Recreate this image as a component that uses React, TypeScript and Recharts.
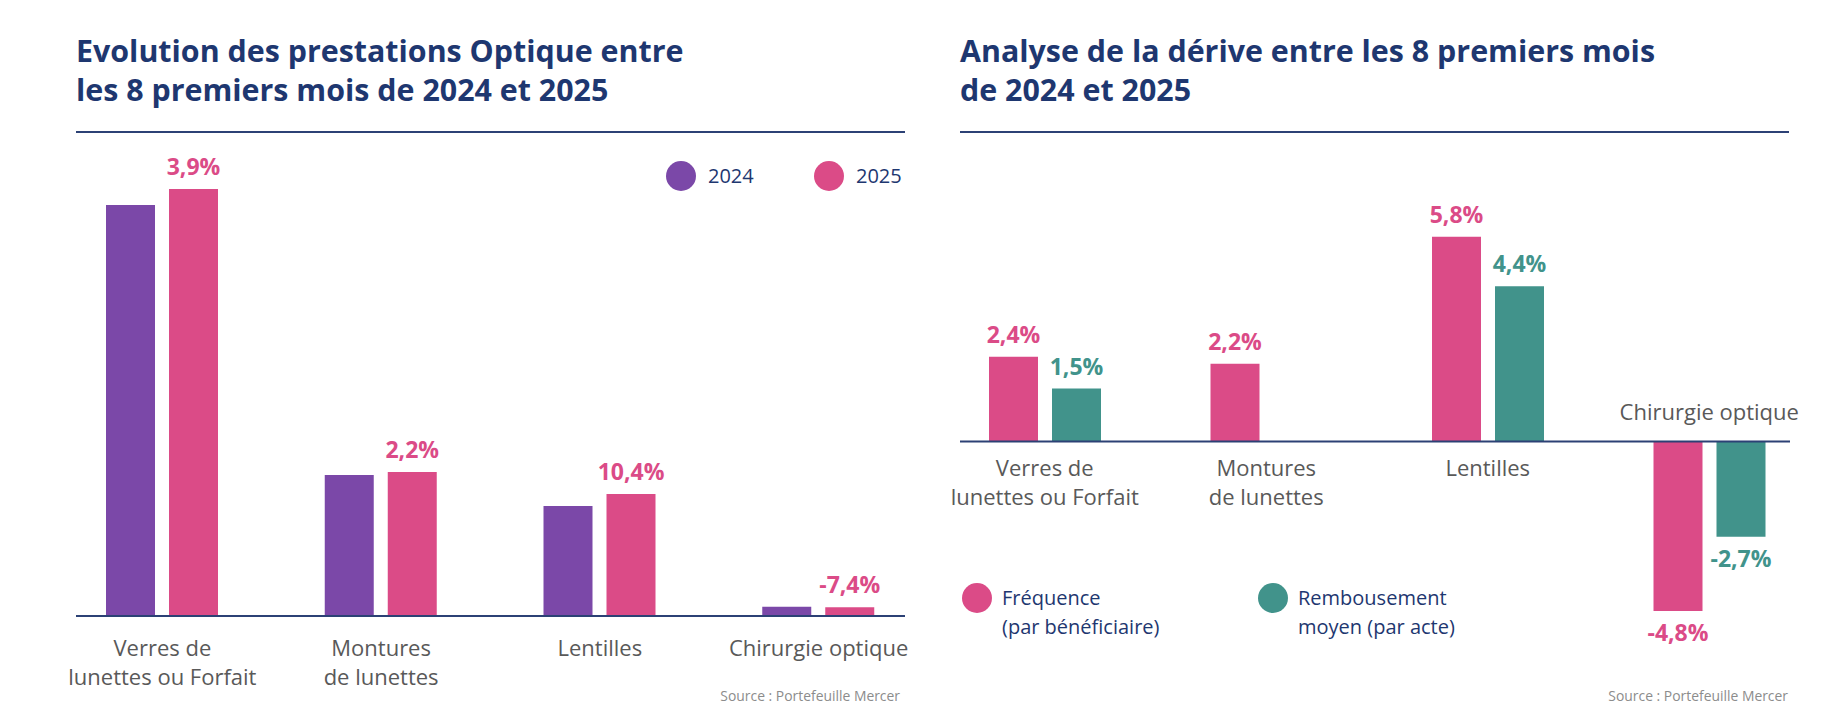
import React from 'react';
import { BarChart, Bar, XAxis, YAxis, LabelList } from 'recharts';

// categories shared by both panels
const CATEGORIES = ['Verres de lunettes ou Forfait', 'Montures de lunettes', 'Lentilles', 'Chirurgie optique'];
const CATEGORY_LINES = [['Verres de', 'lunettes ou Forfait'], ['Montures', 'de lunettes'], ['Lentilles'], ['Chirurgie optique']];

// left panel: benefit amounts (no scale shown) and 2025 vs 2024 growth in %
const AMOUNT_2024 = [41.1, 14.1, 11.0, 0.93];
const AMOUNT_2025 = [42.7, 14.4, 12.2, 0.87];
const GROWTH_2025 = [3.9, 2.2, 10.4, -7.4];

// right panel: drift split in %
const FREQUENCE = [2.4, 2.2, 5.8, -4.8];
const REMBOURSEMENT: (number | null)[] = [1.5, null, 4.4, -2.7];

const LEFT_LEGEND = ['2024', '2025'];
const RIGHT_LEGEND = [['Fréquence', '(par bénéficiaire)'], ['Rembousement', 'moyen (par acte)']];

const TITLE_LEFT = ['Evolution des prestations Optique entre', 'les 8 premiers mois de 2024 et 2025'];
const TITLE_RIGHT = ['Analyse de la dérive entre les 8 premiers mois', 'de 2024 et 2025'];
const SOURCE = 'Source : Portefeuille Mercer';

const COLORS = {
  purple: '#7B48A8',
  pink: '#DB4B87',
  teal: '#41938B',
  navy: '#1E3770',
  rule: '#2C4175',
  tick: '#595959',
  source: '#8C8C8C',
};
const FONT = '"Open Sans", sans-serif';

// layout
const LEFT_W = 940;
const RIGHT_X = 916;
const RIGHT_W = 916;
const H = 721;
const R_TOP = 212;
const R_DOMAIN: [number, number] = [-5.5, 6.5];
const R_PLOT_H = 423.6;
const R_ZERO = R_TOP + (R_PLOT_H * R_DOMAIN[1]) / (R_DOMAIN[1] - R_DOMAIN[0]);

const fmtPct = (v: number) => `${v.toFixed(1).replace('.', ',')}%`;

const leftData = CATEGORIES.map((c, i) => ({
  cat: c,
  a2024: AMOUNT_2024[i],
  a2025: AMOUNT_2025[i],
  growth: GROWTH_2025[i],
}));

const rightData = CATEGORIES.map((c, i) => ({
  cat: c,
  freq: FREQUENCE[i],
  remb: REMBOURSEMENT[i],
}));

const barLabel = (color: string, belowIfNegative: boolean) => (props: any) => {
  const { x, y, width, height, value } = props;
  if (value == null) return null;
  const v = Number(value);
  const y0 = Number(y);
  const y1 = Number(y) + Number(height);
  const top = Math.min(y0, y1);
  const bottom = Math.max(y0, y1);
  const cx = Number(x) + Number(width) / 2;
  const below = belowIfNegative && v < 0;
  return (
    <text x={cx} y={below ? bottom + 30 : top - 14} textAnchor="middle" fill={color}
      fontSize={23} fontWeight={700} fontFamily={FONT}>
      {fmtPct(v)}
    </text>
  );
};

const LeftTick = (props: any) => {
  const { x, y, payload } = props;
  const idx = CATEGORIES.indexOf(payload.value);
  const lines = CATEGORY_LINES[idx] ?? [payload.value];
  return (
    <text textAnchor="middle" fill={COLORS.tick} fontSize={22} fontFamily={FONT}>
      {lines.map((l, i) => (
        <tspan key={i} x={x} y={y + 40 + i * 29}>{l}</tspan>
      ))}
    </text>
  );
};

const RightTick = (props: any) => {
  const { x, payload } = props;
  const idx = CATEGORIES.indexOf(payload.value);
  const lines = CATEGORY_LINES[idx] ?? [payload.value];
  const negative = FREQUENCE[idx] < 0;
  return (
    <text textAnchor="middle" fill={COLORS.tick} fontSize={22} fontFamily={FONT}>
      {negative ? (
        <tspan x={x} y={R_ZERO - 21}>{lines.join(' ')}</tspan>
      ) : (
        lines.map((l, i) => (
          <tspan key={i} x={x} y={R_ZERO + 35 + i * 29}>{l}</tspan>
        ))
      )}
    </text>
  );
};

const Overlay = () => (
  <svg width={1832} height={H} style={{ position: 'absolute', left: 0, top: 0, pointerEvents: 'none' }}>
    {/* titles */}
    <text fill={COLORS.navy} fontSize={30.4} fontWeight={700} fontFamily={FONT}>
      {TITLE_LEFT.map((t, i) => <tspan key={i} x={76} y={62 + i * 38.5}>{t}</tspan>)}
    </text>
    <text fill={COLORS.navy} fontSize={30.4} fontWeight={700} fontFamily={FONT}>
      {TITLE_RIGHT.map((t, i) => <tspan key={i} x={960} y={62 + i * 38.5}>{t}</tspan>)}
    </text>
    <line x1={76} x2={905} y1={132} y2={132} stroke={COLORS.rule} strokeWidth={2} />
    <line x1={960} x2={1789} y1={132} y2={132} stroke={COLORS.rule} strokeWidth={2} />

    {/* baselines */}
    <line x1={76} x2={905} y1={616} y2={616} stroke={COLORS.rule} strokeWidth={2} />
    <line x1={960} x2={1790} y1={R_ZERO} y2={R_ZERO} stroke={COLORS.rule} strokeWidth={2} />

    {/* left legend */}
    {LEFT_LEGEND.map((name, i) => (
      <g key={name}>
        <circle cx={681 + i * 148} cy={176} r={15} fill={i === 0 ? COLORS.purple : COLORS.pink} />
        <text x={708 + i * 148} y={183} fill={COLORS.navy} fontSize={20} fontFamily={FONT}>{name}</text>
      </g>
    ))}

    {/* right legend */}
    {RIGHT_LEGEND.map((lines, i) => (
      <g key={lines[0]}>
        <circle cx={977 + i * 296} cy={598} r={15} fill={i === 0 ? COLORS.pink : COLORS.teal} />
        <text fill={COLORS.navy} fontSize={20} fontFamily={FONT}>
          {lines.map((l, j) => <tspan key={j} x={1002 + i * 296} y={605 + j * 29}>{l}</tspan>)}
        </text>
      </g>
    ))}

    {/* sources */}
    <text x={900} y={701} textAnchor="end" fill={COLORS.source} fontSize={13.9} fontFamily={FONT}>{SOURCE}</text>
    <text x={1788} y={701} textAnchor="end" fill={COLORS.source} fontSize={13.9} fontFamily={FONT}>{SOURCE}</text>
  </svg>
);

export default function App() {
  return (
    <div style={{ position: 'absolute', left: 0, top: 0, width: 1832, height: H, background: '#fff', overflow: 'hidden', fontFamily: FONT }}>
      <div style={{ position: 'absolute', left: 0, top: 0 }}>
        <BarChart width={LEFT_W} height={H} data={leftData}
          margin={{ top: 166, right: 12, bottom: 25, left: 53 }} barGap={14} barSize={49}>
          <XAxis dataKey="cat" axisLine={false} tickLine={false} tickSize={0} tickMargin={0}
            height={80} interval={0} tick={<LeftTick />} />
          <YAxis hide domain={[0, 45]} />
          <Bar dataKey="a2024" name="2024" fill={COLORS.purple} isAnimationActive={false} />
          <Bar dataKey="a2025" name="2025" fill={COLORS.pink} isAnimationActive={false}>
            <LabelList dataKey="growth" content={barLabel(COLORS.pink, false)} />
          </Bar>
        </BarChart>
      </div>
      <div style={{ position: 'absolute', left: RIGHT_X, top: 0 }}>
        <BarChart width={RIGHT_W} height={H} data={rightData}
          margin={{ top: R_TOP, right: 12, bottom: H - R_TOP - R_PLOT_H - 1, left: 18 }} barGap={14} barSize={49}>
          <XAxis dataKey="cat" axisLine={false} tickLine={false} tickSize={0} tickMargin={0}
            height={1} interval={0} tick={<RightTick />} />
          <YAxis hide domain={R_DOMAIN} />
          <Bar dataKey="freq" name="Fréquence (par bénéficiaire)" fill={COLORS.pink} isAnimationActive={false}>
            <LabelList dataKey="freq" content={barLabel(COLORS.pink, true)} />
          </Bar>
          <Bar dataKey="remb" name="Rembousement moyen (par acte)" fill={COLORS.teal} isAnimationActive={false}>
            <LabelList dataKey="remb" content={barLabel(COLORS.teal, true)} />
          </Bar>
        </BarChart>
      </div>
      <Overlay />
    </div>
  );
}
